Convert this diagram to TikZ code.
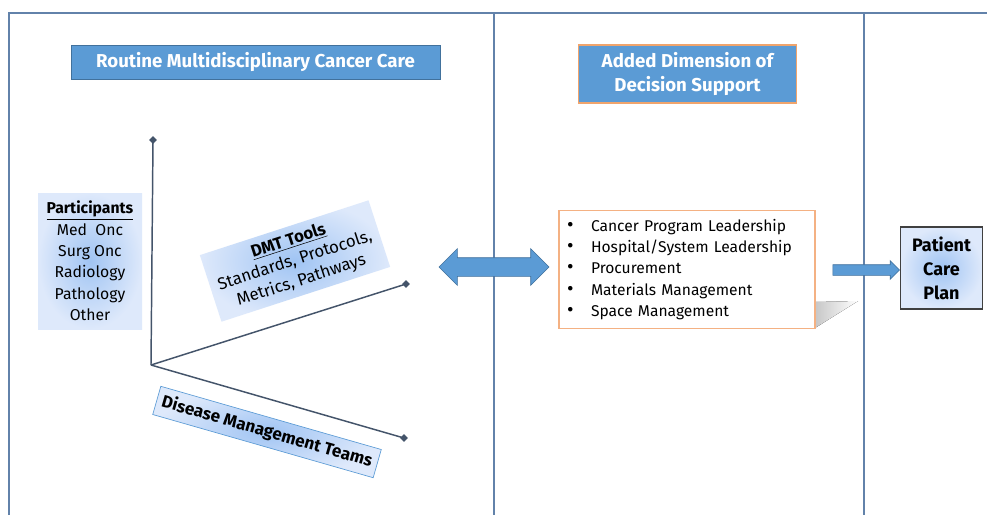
\documentclass[tikz,border=0pt]{standalone}
\usepackage{fontspec}
\setmainfont{Fira Sans}
\usepackage{tikz}
\usetikzlibrary{shapes.geometric,shapes.arrows,positioning,calc}

\definecolor{framec}{RGB}{98,130,170}
\definecolor{titlefill}{RGB}{91,155,213}
\definecolor{titleline}{RGB}{65,113,156}
\definecolor{orangeline}{RGB}{240,164,108}
\definecolor{listline}{RGB}{244,177,131}
\definecolor{axisc}{RGB}{68,84,106}
\definecolor{glowin}{RGB}{160,196,243}
\definecolor{glowout}{RGB}{222,233,251}

\newcommand{\itembul}{\makebox[18pt][l]{\fontsize{15}{15}\selectfont\textbullet}}

\tikzset{
  frame/.style={draw=framec,line width=0.9pt},
  titlebox/.style={draw=titleline,fill=titlefill,text=white,font=\fontsize{14}{18}\selectfont\bfseries,align=center,inner sep=0pt},
  glowbox/.style={inner sep=0pt,inner color=glowin,outer color=glowout,align=center},
  axisline/.style={draw=axisc,line width=1.1pt},
  axistip/.style={diamond,fill=axisc,inner sep=0pt,minimum size=6pt},
  blockarrow/.style={fill=titlefill,draw=titleline,line width=0.5pt,inner xsep=0pt}
}

\begin{document}
\begin{tikzpicture}[x=0.75pt,y=-0.75pt]
\useasboundingbox[fill=white] (0,0) rectangle (987,515);

% frame and column dividers
\draw[frame] (9,515) |- (987,13);
\draw[frame] (494,13) -- (494,515);
\draw[frame] (864,13) -- (864,515);

% headers
\node[titlebox,minimum width=277pt,minimum height=25.5pt] (routine) at (255.5,62) {Routine Multidisciplinary Cancer Care};
\node[titlebox,draw=orangeline,line width=0.8pt,minimum width=164pt,minimum height=43.5pt] (added) at (687.5,74) {Added Dimension of\\Decision Support};

% participants
\node[glowbox,minimum width=78pt,minimum height=102pt,font=\fontsize{11.8}{16}\selectfont] (participants) at (90,261)
  {\textbf{\underline{Participants}}\\Med\ \ Onc\\Surg Onc\\Radiology\\Pathology\\Other};

% axes
\coordinate (origin) at (151,365);
\node[axistip] (upper) at (153,140) {};
\node[axistip] (tools) at (406,284) {};
\node[axistip] (teams) at (404,438) {};
\draw[axisline] (origin) -- (upper.center);
\draw[axisline] (origin) -- (tools.center);
\draw[axisline] (origin) -- (teams.center);

\node[glowbox,rotate=18,minimum width=133pt,minimum height=52.5pt,font=\fontsize{12.6}{15.5}\selectfont] (dmt) at (295,261)
  {\textbf{\underline{DMT Tools}}\\Standards, Protocols,\\Metrics, Pathways};
\node[glowbox,draw=titlefill,line width=0.5pt,rotate=-16,minimum width=172pt,minimum height=22pt,font=\fontsize{12.8}{14}\selectfont\bfseries] (disease) at (267,432)
  {Disease Management Teams};

% decision support
\fill[left color=black!22,right color=white] (815,302) -- (858,301) -- (815,328) -- cycle;
\node[draw=listline,line width=0.8pt,fill=white,minimum width=192pt,minimum height=88pt,text width=180pt,align=left,inner sep=0pt,font=\fontsize{11.7}{16}\selectfont] (leaders) at (687,269.5)
  {\itembul Cancer Program Leadership\\
   \itembul Hospital/System Leadership\\
   \itembul Procurement\\
   \itembul Materials Management\\
   \itembul Space Management};

\node[double arrow,blockarrow,minimum height=82.5pt,inner ysep=6.75pt,double arrow head extend=6.75pt] (link) at (494,267) {};

% care plan
\node[draw=black!75,line width=0.8pt,inner color=glowin,outer color=glowout,minimum width=61pt,minimum height=61.5pt,align=center,inner sep=0pt,font=\fontsize{13.5}{18}\selectfont\bfseries] (plan) at (941.5,268)
  {Patient\\Care\\Plan};
\node[single arrow,blockarrow,minimum height=50pt,inner ysep=3.75pt,single arrow head extend=3pt] (toplan) at (863.5,270) {};
\end{tikzpicture}
\end{document}
